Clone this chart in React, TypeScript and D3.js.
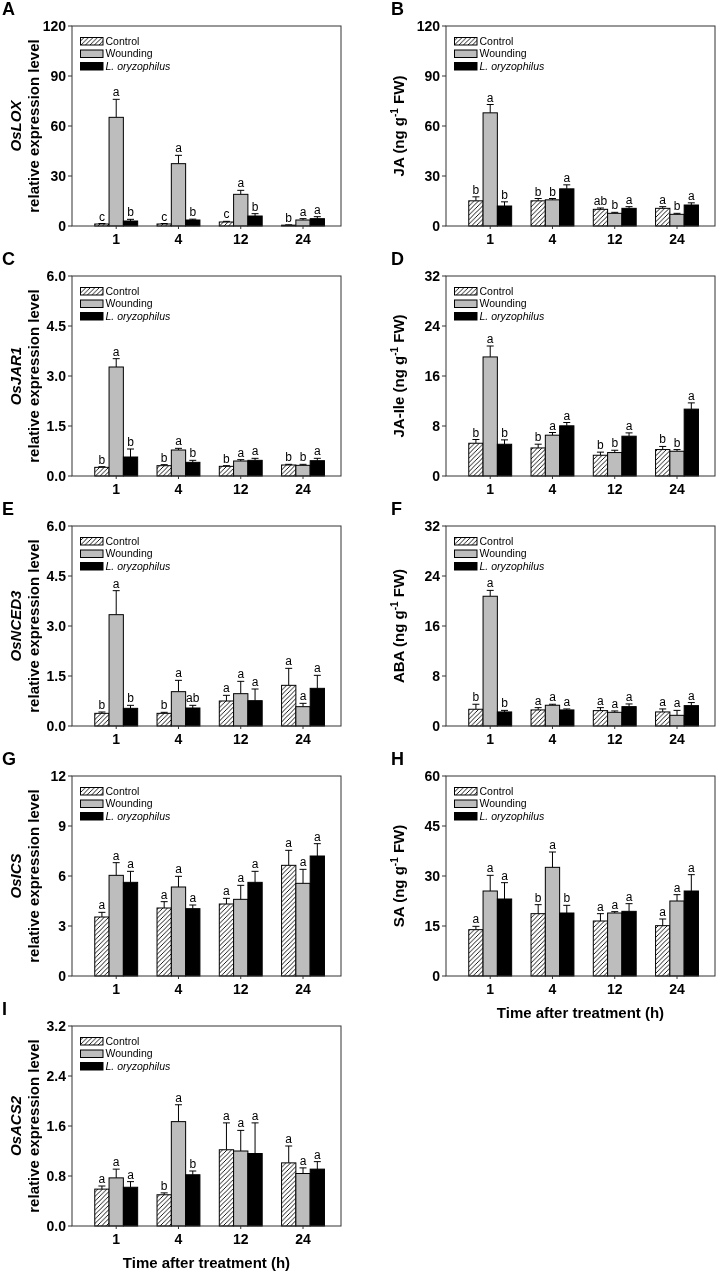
import React from 'react';
import * as d3 from 'd3';

// ---------- shared categories ----------
const timePoints = ['1', '4', '12', '24'];
const treatments = ['Control', 'Wounding', 'L. oryzophilus'];

// ---------- A: OsLOX ----------
const A_mean = [[1.2, 1.2, 2.4, 0.5], [65.2, 37.4, 19.0, 3.6], [3.0, 3.6, 6.0, 4.4]];
const A_err = [[0.3, 0.3, 0.4, 0.2], [10.8, 5.0, 2.4, 0.8], [1.0, 0.5, 1.4, 1.2]];
const A_sig = [['c', 'c', 'c', 'b'], ['a', 'a', 'a', 'a'], ['b', 'b', 'b', 'a']];
const A_ticks = [0, 30, 60, 90, 120];
const A_tickLabels = ['0', '30', '60', '90', '120'];

// ---------- B: JA ----------
const B_mean = [[15.1, 15.1, 10.0, 10.6], [67.9, 15.7, 7.6, 7.0], [12.0, 22.3, 10.6, 12.6]];
const B_err = [[2.4, 1.4, 0.8, 1.0], [5.0, 0.8, 0.6, 0.6], [2.5, 2.4, 1.0, 1.3]];
const B_sig = [['b', 'b', 'ab', 'a'], ['a', 'b', 'b', 'b'], ['b', 'a', 'a', 'a']];
const B_ticks = [0, 30, 60, 90, 120];
const B_tickLabels = ['0', '30', '60', '90', '120'];

// ---------- C: OsJAR1 ----------
const C_mean = [[0.26, 0.31, 0.29, 0.33], [3.27, 0.78, 0.45, 0.32], [0.57, 0.41, 0.47, 0.46]];
const C_err = [[0.02, 0.03, 0.02, 0.02], [0.25, 0.05, 0.04, 0.03], [0.24, 0.06, 0.06, 0.07]];
const C_sig = [['b', 'b', 'b', 'b'], ['a', 'a', 'a', 'b'], ['b', 'b', 'a', 'a']];
const C_ticks = [0, 1.5, 3, 4.5, 6];
const C_tickLabels = ['0.0', '1.5', '3.0', '4.5', '6.0'];

// ---------- D: JA-Ile ----------
const D_mean = [[5.24, 4.49, 3.32, 4.23], [19.05, 6.53, 3.75, 3.96], [5.08, 8.03, 6.37, 10.7]];
const D_err = [[0.6, 0.6, 0.5, 0.5], [1.75, 0.43, 0.37, 0.27], [0.7, 0.53, 0.53, 1.0]];
const D_sig = [['b', 'b', 'b', 'b'], ['a', 'a', 'b', 'b'], ['b', 'a', 'a', 'a']];
const D_ticks = [0, 8, 16, 24, 32];
const D_tickLabels = ['0', '8', '16', '24', '32'];

// ---------- E: OsNCED3 ----------
const E_mean = [[0.38, 0.38, 0.75, 1.22], [3.34, 1.03, 0.97, 0.58], [0.53, 0.54, 0.76, 1.13]];
const E_err = [[0.04, 0.03, 0.17, 0.51], [0.72, 0.34, 0.37, 0.1], [0.09, 0.08, 0.35, 0.39]];
const E_sig = [['b', 'b', 'a', 'a'], ['a', 'a', 'a', 'a'], ['b', 'ab', 'a', 'a']];
const E_ticks = [0, 1.5, 3, 4.5, 6];
const E_tickLabels = ['0.0', '1.5', '3.0', '4.5', '6.0'];

// ---------- F: ABA ----------
const F_mean = [[2.68, 2.57, 2.46, 2.25], [20.76, 3.32, 2.19, 1.71], [2.25, 2.57, 3.1, 3.26]];
const F_err = [[0.8, 0.37, 0.48, 0.48], [0.94, 0.16, 0.22, 0.79], [0.25, 0.16, 0.43, 0.49]];
const F_sig = [['b', 'a', 'a', 'a'], ['a', 'a', 'a', 'a'], ['b', 'a', 'a', 'a']];
const F_ticks = [0, 8, 16, 24, 32];
const F_tickLabels = ['0', '8', '16', '24', '32'];

// ---------- G: OsICS ----------
const G_mean = [[3.54, 4.08, 4.32, 6.64], [6.04, 5.34, 4.6, 5.56], [5.62, 4.04, 5.62, 7.2]];
const G_err = [[0.28, 0.38, 0.34, 0.9], [0.76, 0.64, 0.84, 0.84], [0.66, 0.22, 0.66, 0.74]];
const G_sig = [['a', 'a', 'a', 'a'], ['a', 'a', 'a', 'a'], ['a', 'a', 'a', 'a']];
const G_ticks = [0, 3, 6, 9, 12];
const G_tickLabels = ['0', '3', '6', '9', '12'];

// ---------- H: SA ----------
const H_mean = [[13.9, 18.7, 16.5, 15.1], [25.5, 32.6, 18.9, 22.5], [23.1, 18.9, 19.4, 25.5]];
const H_err = [[1.0, 2.7, 2.2, 2.0], [4.7, 4.6, 0.4, 1.9], [4.9, 2.3, 2.3, 4.9]];
const H_sig = [['a', 'b', 'a', 'a'], ['a', 'a', 'a', 'a'], ['a', 'b', 'a', 'a']];
const H_ticks = [0, 15, 30, 45, 60];
const H_tickLabels = ['0', '15', '30', '45', '60'];

// ---------- I: OsACS2 ----------
const I_mean = [[0.59, 0.5, 1.22, 1.01], [0.77, 1.67, 1.2, 0.84], [0.62, 0.82, 1.16, 0.91]];
const I_err = [[0.05, 0.03, 0.43, 0.27], [0.14, 0.27, 0.33, 0.09], [0.09, 0.06, 0.49, 0.12]];
const I_sig = [['a', 'b', 'a', 'a'], ['a', 'a', 'a', 'a'], ['a', 'b', 'a', 'a']];
const I_ticks = [0, 0.8, 1.6, 2.4, 3.2];
const I_tickLabels = ['0.0', '0.8', '1.6', '2.4', '3.2'];

const xTitle = 'Time after treatment (h)';

const panels = [
  { letter: 'A', col: 0, row: 0, mean: A_mean, err: A_err, sig: A_sig, ticks: A_ticks, tickLabels: A_tickLabels, gene: 'OsLOX' },
  { letter: 'B', col: 1, row: 0, mean: B_mean, err: B_err, sig: B_sig, ticks: B_ticks, tickLabels: B_tickLabels, hormone: 'JA' },
  { letter: 'C', col: 0, row: 1, mean: C_mean, err: C_err, sig: C_sig, ticks: C_ticks, tickLabels: C_tickLabels, gene: 'OsJAR1' },
  { letter: 'D', col: 1, row: 1, mean: D_mean, err: D_err, sig: D_sig, ticks: D_ticks, tickLabels: D_tickLabels, hormone: 'JA-Ile' },
  { letter: 'E', col: 0, row: 2, mean: E_mean, err: E_err, sig: E_sig, ticks: E_ticks, tickLabels: E_tickLabels, gene: 'OsNCED3' },
  { letter: 'F', col: 1, row: 2, mean: F_mean, err: F_err, sig: F_sig, ticks: F_ticks, tickLabels: F_tickLabels, hormone: 'ABA' },
  { letter: 'G', col: 0, row: 3, mean: G_mean, err: G_err, sig: G_sig, ticks: G_ticks, tickLabels: G_tickLabels, gene: 'OsICS' },
  { letter: 'H', col: 1, row: 3, mean: H_mean, err: H_err, sig: H_sig, ticks: H_ticks, tickLabels: H_tickLabels, hormone: 'SA', showX: true },
  { letter: 'I', col: 0, row: 4, mean: I_mean, err: I_err, sig: I_sig, ticks: I_ticks, tickLabels: I_tickLabels, gene: 'OsACS2', showX: true },
];

const FONT = 'Liberation Sans, Arial, Helvetica, sans-serif';
const fills = ['url(#hatch)', '#bdbdbd', '#000000'];
const AXIS = '#333333';

function Panel(p: any) {
  const left = p.col === 0 ? 72 : 446;
  const top = 26 + p.row * 250;
  const w = 269;
  const h = 200;
  const bottom = top + h;
  const x = d3.scaleLinear().domain([-0.71, 3.61]).range([left, left + w]);
  const yMax = p.ticks[p.ticks.length - 1];
  const y = d3.scaleLinear().domain([0, yMax]).range([bottom, top]);
  const bw = 14.3;
  const cx = (i: number) => x(i);

  return (
    <g>
      <text x={p.col === 0 ? 2 : 391} y={top - 11} fontSize={18} fontWeight="bold" fontFamily={FONT} fill="#000">
        {p.letter}
      </text>
      {treatments.map((t, s) =>
        timePoints.map((tp, i) => {
          const m = p.mean[s][i];
          const e = p.err[s][i];
          const bx = cx(i) + (s - 1.5) * bw;
          const c = bx + bw / 2;
          const yTop = y(m + e);
          return (
            <g key={t + tp}>
              <line x1={c} x2={c} y1={y(m)} y2={yTop} stroke="#000" strokeWidth={1} />
              <line x1={c - 3.5} x2={c + 3.5} y1={yTop} y2={yTop} stroke="#000" strokeWidth={1} />
              <rect x={bx} y={y(m)} width={bw} height={bottom - y(m)} fill={fills[s]} stroke="#000" strokeWidth={1} />
              <text x={c} y={yTop - 3} textAnchor="middle" fontSize={12} fontFamily={FONT} fill="#000">
                {p.sig[s][i]}
              </text>
            </g>
          );
        })
      )}
      <rect x={left} y={top} width={w} height={h} fill="none" stroke={AXIS} strokeWidth={1} />
      {p.ticks.map((t: number, k: number) => (
        <g key={'yt' + k}>
          <line x1={left - 4} x2={left} y1={y(t)} y2={y(t)} stroke={AXIS} />
          <text x={left - 6} y={y(t)} dy="0.36em" textAnchor="end" fontSize={14} fontWeight="bold" fontFamily={FONT} fill="#000">
            {p.tickLabels[k]}
          </text>
        </g>
      ))}
      {timePoints.map((tp, i) => (
        <g key={'xt' + tp}>
          <line x1={cx(i)} x2={cx(i)} y1={bottom} y2={bottom + 3} stroke={AXIS} />
          <text x={cx(i)} y={bottom + 18} textAnchor="middle" fontSize={14} fontWeight="bold" fontFamily={FONT} fill="#000">
            {tp}
          </text>
        </g>
      ))}
      {treatments.map((t, s) => (
        <g key={'lg' + s}>
          <rect x={left + 8.5} y={top + 11.5 + s * 12.5} width={22.5} height={7.5} fill={fills[s]} stroke="#000" strokeWidth={1} />
          <text
            x={left + 33.5}
            y={top + 18.5 + s * 12.5}
            fontSize={10.5}
            fontStyle={s === 2 ? 'italic' : 'normal'}
            fontFamily={FONT}
            fill="#000"
          >
            {t}
          </text>
        </g>
      ))}
      {p.gene ? (
        <g>
          <text
            transform={`translate(21, ${top + h / 2}) rotate(-90)`}
            textAnchor="middle"
            fontSize={15}
            fontWeight="bold"
            fontStyle="italic"
            fontFamily={FONT}
            fill="#000"
          >
            {p.gene}
          </text>
          <text
            transform={`translate(38.5, ${top + h / 2}) rotate(-90)`}
            textAnchor="middle"
            fontSize={15}
            fontWeight="bold"
            fontFamily={FONT}
            fill="#000"
          >
            relative expression level
          </text>
        </g>
      ) : (
        <text
          transform={`translate(403.5, ${top + h / 2}) rotate(-90)`}
          textAnchor="middle"
          fontSize={15}
          fontWeight="bold"
          fontFamily={FONT}
          fill="#000"
        >
          {p.hormone + ' (ng g'}
          <tspan fontSize={10} dy={-6}>-1</tspan>
          <tspan dy={6}> FW)</tspan>
        </text>
      )}
      {p.showX && (
        <text x={left + w / 2} y={bottom + 42} textAnchor="middle" fontSize={15} fontWeight="bold" fontFamily={FONT} fill="#000">
          {xTitle}
        </text>
      )}
    </g>
  );
}

export default function App() {
  return (
    <svg
      width={717}
      height={1272}
      style={{ position: 'absolute', left: 0, top: 0, background: '#fff', willChange: 'transform' }}
    >
      <defs>
        <pattern id="hatch" patternUnits="userSpaceOnUse" width={4.5} height={4.5}>
          <rect width={4.5} height={4.5} fill="#fff" />
          <path d="M-1,1 L1,-1 M0,4.5 L4.5,0 M3.5,5.5 L5.5,3.5" stroke="#000" strokeWidth={0.9} />
        </pattern>
      </defs>
      <rect width={717} height={1272} fill="#fff" />
      <g style={{ filter: 'grayscale(1)' }}>
        {panels.map((p) => (
          <Panel key={p.letter} {...p} />
        ))}
      </g>
    </svg>
  );
}
